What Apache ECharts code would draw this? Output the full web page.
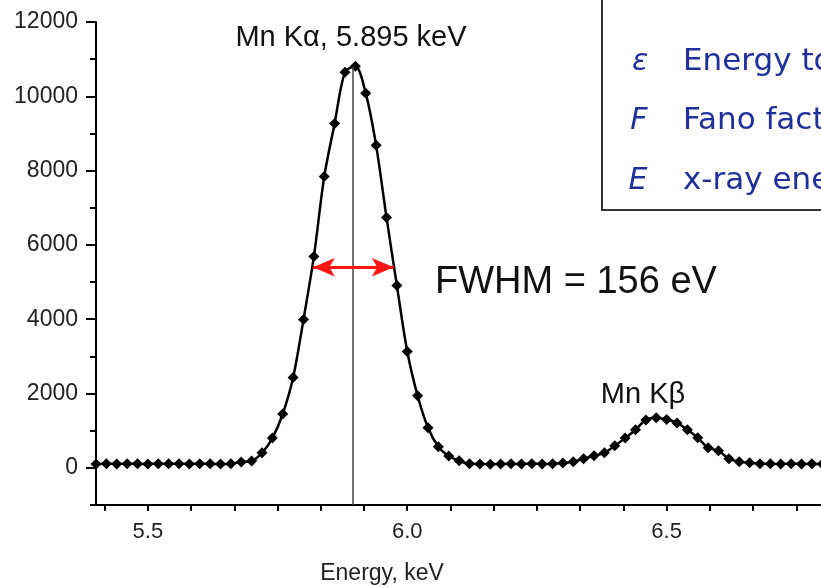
<!DOCTYPE html>
<html>
<head>
<meta charset="utf-8">
<script src="https://cdn.jsdelivr.net/npm/echarts@6/dist/echarts.min.js"></script>
<style>
  html, body { margin: 0; padding: 0; background: #fff; }
  #main { width: 821px; height: 587px; }
</style>
</head>
<body>
<div id="main"></div>
<script>
// energies (keV), one point every 20 eV
var energy = [
  5.40, 5.42, 5.44, 5.46, 5.48, 5.50, 5.52, 5.54, 5.56, 5.58,
  5.60, 5.62, 5.64, 5.66, 5.68, 5.70, 5.72, 5.74, 5.76, 5.78,
  5.80, 5.82, 5.84, 5.86, 5.88, 5.90, 5.92, 5.94, 5.96, 5.98,
  6.00, 6.02, 6.04, 6.06, 6.08, 6.10, 6.12, 6.14, 6.16, 6.18,
  6.20, 6.22, 6.24, 6.26, 6.28, 6.30, 6.32, 6.34, 6.36, 6.38,
  6.40, 6.42, 6.44, 6.46, 6.48, 6.50, 6.52, 6.54, 6.56, 6.58,
  6.60, 6.62, 6.64, 6.66, 6.68, 6.70, 6.72, 6.74, 6.76, 6.78,
  6.80, 6.82
];
// counts
var counts = [
  105, 110, 105, 110, 108, 105, 110, 108, 110, 105,
  110, 108, 105, 110, 160, 185, 405, 800, 1450, 2430,
  3990, 5690, 7840, 9270, 10650, 10810, 10080, 8680, 6740, 4910,
  3130, 1940, 1080, 570, 320, 190, 110, 105, 100, 105,
  108, 105, 110, 105, 110, 130, 165, 245, 325, 405,
  595, 800, 1025, 1290, 1350, 1300, 1210, 1025, 810, 540,
  460, 245, 165, 135, 110, 108, 105, 110, 105, 108,
  105, 108
];

var xLabels = [5.5, 6.0, 6.5];
var yLabels = [0, 2000, 4000, 6000, 8000, 10000, 12000];
var kAlpha = 5.895, kAlphaTop = 10800;
var fwhmLeft = 5.818, fwhmRight = 5.974, halfMax = 5400;

var xMin = 5.4, xMax = 7.0, xStep = 0.5 / 6;
var xTicks = [];
for (var t = xLabels[0] - xStep; t <= xMax + 1e-9; t += xStep) xTicks.push(+t.toFixed(4));

var data = energy.map(function (e, i) { return [e, counts[i]]; });

var font = '"Liberation Sans", Arial, sans-serif';
var boxFont = '"DejaVu Sans", Verdana, sans-serif';
var blue = '#1f2f9c';

var myChart = echarts.init(document.getElementById('main'));
var option = {
  animation: false,
  grid: { left: 96, top: 22, bottom: 82, width: 830, outerBoundsMode: 'none', containLabel: false },
  xAxis: {
    type: 'value',
    min: xMin,
    max: xMax,
    axisLine: { onZero: false, lineStyle: { color: '#000', width: 2 } },
    axisTick: { customValues: xTicks, length: 6, lineStyle: { color: '#000', width: 2 } },
    axisLabel: {
      customValues: xLabels, margin: 16,
      color: '#222', fontFamily: font, fontSize: 22,
      formatter: function (v) { return v.toFixed(1); }
    },
    splitLine: { show: false }
  },
  yAxis: [{
    type: 'value',
    min: -1000,
    max: 12000,
    interval: 1000,
    axisLine: { show: true, onZero: false, lineStyle: { color: '#000', width: 2 } },
    axisTick: { length: 6, lineStyle: { color: '#000', width: 2 } },
    axisLabel: {
      customValues: yLabels, margin: 18,
      color: '#222', fontFamily: font, fontSize: 23,
      formatter: function (v) { return String(v); }
    },
    splitLine: { show: false }
  }, {
    type: 'value',
    position: 'left',
    min: -1000,
    max: 12000,
    axisLine: { show: false, onZero: false },
    axisTick: { customValues: yLabels, length: 10, lineStyle: { color: '#000', width: 2 } },
    axisLabel: { show: false },
    splitLine: { show: false }
  }],
  series: [{
    type: 'line',
    data: data,
    smooth: 0.3,
    symbol: 'diamond',
    symbolSize: 11,
    showAllSymbol: true,
    lineStyle: { color: '#000', width: 2.5 },
    itemStyle: { color: '#000' },
    z: 3,
    markLine: {
      silent: true,
      animation: false,
      label: { show: false },
      data: [
        [
          { coord: [kAlpha, kAlphaTop], symbol: 'none', lineStyle: { color: '#444', width: 1.5, type: 'solid' } },
          { coord: [kAlpha, -1000], symbol: 'none' }
        ],
        [
          { coord: [fwhmLeft, halfMax], symbol: 'arrow', symbolSize: [14, 22], lineStyle: { color: '#ff1414', width: 3, type: 'solid' } },
          { coord: [fwhmRight, halfMax], symbol: 'arrow', symbolSize: [14, 22] }
        ]
      ]
    }
  }],
  graphic: [
    { type: 'text', x: 351, y: 38, style: { text: 'Mn K\u03b1, 5.895 keV', fill: '#111', font: '29px ' + font, align: 'center', verticalAlign: 'middle' } },
    { type: 'text', x: 643, y: 395, style: { text: 'Mn K\u03b2', fill: '#111', font: '29px ' + font, align: 'center', verticalAlign: 'middle' } },
    { type: 'text', x: 435, y: 283, style: { text: 'FWHM = 156 eV', fill: '#111', font: '38px ' + font, align: 'left', verticalAlign: 'middle' } },
    { type: 'text', x: 382, y: 574, style: { text: 'Energy, keV', fill: '#222', font: '23px ' + font, align: 'center', verticalAlign: 'middle' } },
    { type: 'rect', shape: { x: 602, y: -10, width: 400, height: 220 }, style: { fill: '#fff', stroke: '#333', lineWidth: 2 }, z: 10 },
    { type: 'text', x: 773, y: 4, z: 11, style: { text: 'Energy resolution', fill: '#111', font: '30px ' + boxFont, verticalAlign: 'bottom' } },
    { type: 'text', x: 640, y: 62, z: 11, style: { text: '\u03b5', fill: blue, font: 'italic 30px ' + boxFont, align: 'center', verticalAlign: 'middle' } },
    { type: 'text', x: 683, y: 62, z: 11, style: { text: 'Energy to create an e-h pair', fill: blue, font: '31px ' + boxFont, verticalAlign: 'middle' } },
    { type: 'text', x: 639, y: 121, z: 11, style: { text: 'F', fill: blue, font: 'italic 30px ' + boxFont, align: 'center', verticalAlign: 'middle' } },
    { type: 'text', x: 683, y: 121, z: 11, style: { text: 'Fano factor', fill: blue, font: '31px ' + boxFont, verticalAlign: 'middle' } },
    { type: 'text', x: 638, y: 181, z: 11, style: { text: 'E', fill: blue, font: 'italic 30px ' + boxFont, align: 'center', verticalAlign: 'middle' } },
    { type: 'text', x: 683, y: 181, z: 11, style: { text: 'x-ray energy', fill: blue, font: '31px ' + boxFont, verticalAlign: 'middle' } }
  ]
};
myChart.setOption(option);
</script>
</body>
</html>
